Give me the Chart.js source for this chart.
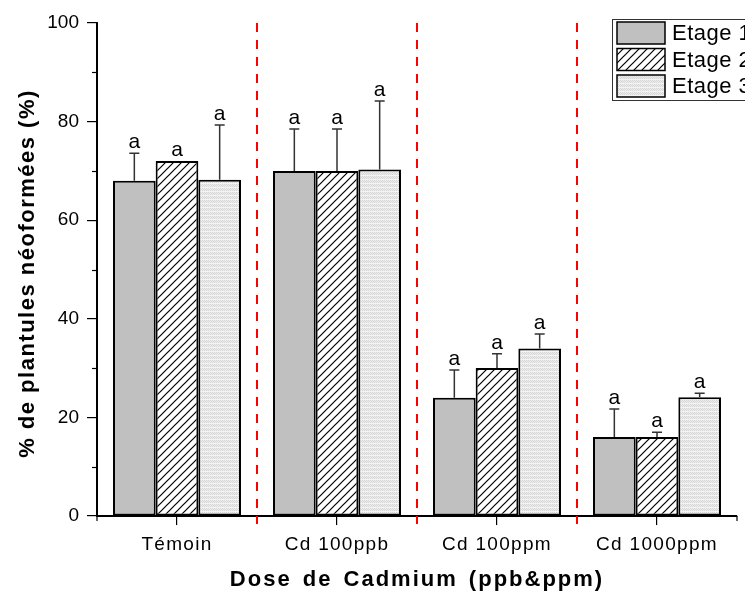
<!DOCTYPE html>
<html>
<head>
<meta charset="utf-8">
<script src="https://cdn.jsdelivr.net/npm/chart.js@4/dist/chart.umd.min.js"></script>
<style>
html,body{margin:0;padding:0;background:#fff;}
#wrap{width:745px;height:594px;}
</style>
</head>
<body>
<div id="wrap"><canvas id="c" width="745" height="594"></canvas></div>
<script>
const categories = ['Témoin', 'Cd 100ppb', 'Cd 100ppm', 'Cd 1000ppm'];
const seriesNames = ['Etage 1', 'Etage 2', 'Etage 3'];
const etage1 = [68, 70, 24, 16];
const etage2 = [72, 70, 30, 16];
const etage3 = [68.2, 70.3, 34, 24.1];
const err1 = [5.6, 8.5, 5.6, 5.7];
const err2 = [0, 8.5, 2.9, 1.0];
const err3 = [11.1, 13.9, 2.9, 0.8];
const letters1 = ['a', 'a', 'a', 'a'];
const letters2 = ['a', 'a', 'a', 'a'];
const letters3 = ['a', 'a', 'a', 'a'];
const yTicks = [0, 20, 40, 60, 80, 100];
const xTitle = 'Dose de Cadmium (ppb&ppm)';
const yTitle = '% de plantules néoformées (%)';

const FONT = "'Liberation Sans', Arial, sans-serif";

function hatchPattern() {
  const c = document.createElement('canvas');
  c.width = 8; c.height = 8;
  const g = c.getContext('2d');
  g.fillStyle = '#ffffff'; g.fillRect(0, 0, 8, 8);
  g.strokeStyle = '#000'; g.lineWidth = 1.2;
  g.beginPath();
  g.moveTo(-1, 9); g.lineTo(9, -1);
  g.moveTo(-5, 5); g.lineTo(5, -5);
  g.moveTo(3, 13); g.lineTo(13, 3);
  g.stroke();
  return g.createPattern(c, 'repeat');
}
function stipplePattern() {
  const c = document.createElement('canvas');
  c.width = 4; c.height = 4;
  const g = c.getContext('2d');
  for (let y = 0; y < 4; y++) {
    for (let x = 0; x < 4; x++) {
      if (y === 3) g.fillStyle = '#f4f4f4';
      else g.fillStyle = ((x + y) % 2 === 0) ? '#d6d6d6' : '#eeeeee';
      g.fillRect(x, y, 1, 1);
    }
  }
  return g.createPattern(c, 'repeat');
}

const errs = [err1, err2, err3];
const letters = [letters1, letters2, letters3];

const errorBarPlugin = {
  id: 'errorBars',
  afterDatasetsDraw(chart) {
    const ctx = chart.ctx;
    const ys = chart.scales.y;
    chart.data.datasets.forEach((ds, i) => {
      const meta = chart.getDatasetMeta(i);
      meta.data.forEach((bar, j) => {
        const v = ds.data[j];
        const e = errs[i][j];
        const yTop = ys.getPixelForValue(v + e);
        ctx.save();
        if (e > 0) {
          ctx.strokeStyle = '#333';
          ctx.lineWidth = 1.5;
          ctx.beginPath();
          ctx.moveTo(bar.x, bar.y);
          ctx.lineTo(bar.x, yTop);
          ctx.moveTo(bar.x - 5, yTop);
          ctx.lineTo(bar.x + 5, yTop);
          ctx.stroke();
        }
        ctx.fillStyle = '#000';
        ctx.font = '21px ' + FONT;
        ctx.textAlign = 'center';
        ctx.textBaseline = 'alphabetic';
        ctx.fillText(letters[i][j], bar.x, yTop - 5);
        ctx.restore();
      });
    });
  }
};

const decorPlugin = {
  id: 'decor',
  afterDraw(chart) {
    const ctx = chart.ctx;
    const xs = chart.scales.x, ys = chart.scales.y;
    const area = chart.chartArea;
    const n = categories.length;
    const step = (xs.right - xs.left) / n;
    ctx.save();
    ctx.strokeStyle = '#000'; ctx.lineWidth = 1.2;
    for (let v = 10; v < 100; v += 20) {
      const y = Math.round(ys.getPixelForValue(v)) + 0.5;
      ctx.beginPath(); ctx.moveTo(area.left - 5, y); ctx.lineTo(area.left, y); ctx.stroke();
    }
    for (let k = 0; k <= n; k++) {
      const x = xs.left + k * step;
      ctx.beginPath(); ctx.moveTo(x, area.bottom); ctx.lineTo(x, area.bottom + 5); ctx.stroke();
    }
    ctx.strokeStyle = '#ff0000'; ctx.lineWidth = 2;
    ctx.setLineDash([9, 8]);
    for (let k = 1; k < n; k++) {
      const x = Math.round(xs.left + k * step);
      ctx.beginPath(); ctx.moveTo(x, area.top); ctx.lineTo(x, area.bottom + 8); ctx.stroke();
    }
    ctx.setLineDash([]);
    ctx.restore();

    // x tick labels
    ctx.save();
    ctx.fillStyle = '#000';
    ctx.font = '19px ' + FONT;
    ctx.letterSpacing = '1.3px';
    ctx.textAlign = 'center';
    ctx.textBaseline = 'middle';
    categories.forEach((c, i) => {
      ctx.fillText(c, xs.getPixelForTick(i), 545);
    });
    ctx.restore();

    // axis titles
    ctx.save();
    ctx.fillStyle = '#000';
    ctx.font = 'bold 22px ' + FONT;
    ctx.letterSpacing = '2px';
    ctx.wordSpacing = '3px';
    ctx.textAlign = 'center';
    ctx.textBaseline = 'middle';
    ctx.fillText(xTitle, (area.left + area.right) / 2, 580);
    ctx.letterSpacing = '1.5px';
    ctx.wordSpacing = '0px';
    ctx.translate(28, (area.top + area.bottom) / 2 + 4);
    ctx.rotate(-Math.PI / 2);
    ctx.fillText(yTitle, 0, 0);
    ctx.restore();

    // legend
    ctx.save();
    ctx.fillStyle = '#fff';
    ctx.fillRect(612, 19, 140, 81);
    ctx.strokeStyle = '#333'; ctx.lineWidth = 1;
    ctx.strokeRect(612.5, 19.5, 140, 81);
    const rows = [22, 48.5, 75];
    chart.data.datasets.forEach((ds, i) => {
      const y = rows[i];
      ctx.fillStyle = ds.backgroundColor;
      ctx.fillRect(617, y, 48, 22);
      ctx.strokeStyle = '#000'; ctx.lineWidth = 1.5;
      ctx.strokeRect(617, y, 48, 22);
      ctx.fillStyle = '#000';
      ctx.font = '22px ' + FONT;
      ctx.letterSpacing = '0.5px';
      ctx.textAlign = 'left';
      ctx.textBaseline = 'middle';
      ctx.fillText(ds.label, 672, y + 12);
    });
    ctx.restore();
  }
};

const chart = new Chart(document.getElementById('c'), {
  type: 'bar',
  data: {
    labels: categories,
    datasets: [
      { label: seriesNames[0], data: etage1, backgroundColor: '#c0c0c0', borderColor: '#000', borderWidth: 2, borderSkipped: false },
      { label: seriesNames[1], data: etage2, backgroundColor: hatchPattern(), borderColor: '#000', borderWidth: 2, borderSkipped: false },
      { label: seriesNames[2], data: etage3, backgroundColor: stipplePattern(), borderColor: '#000', borderWidth: 2, borderSkipped: false }
    ]
  },
  options: {
    responsive: false,
    animation: false,
    layout: { padding: { top: 23, right: 8, left: 0, bottom: 0 } },
    datasets: { bar: { categoryPercentage: 0.8, barPercentage: 1.0 } },
    plugins: { legend: { display: false }, tooltip: { enabled: false } },
    scales: {
      x: {
        offset: true,
        grid: { display: true, drawOnChartArea: false, drawTicks: true, tickLength: 9, color: '#000', lineWidth: 1.2, offset: false },
        border: { display: true, color: '#000', width: 2 },
        ticks: { display: false },
        afterFit(s) { s.height = 78; }
      },
      y: {
        min: 0, max: 100,
        afterBuildTicks(s) { s.ticks = yTicks.map(v => ({ value: v })); },
        grid: { display: true, drawOnChartArea: false, drawTicks: true, tickLength: 10, color: '#000', lineWidth: 1.2 },
        border: { display: true, color: '#000', width: 2 },
        ticks: { color: '#000', padding: 8, font: { family: FONT, size: 19 } },
        afterFit(s) { s.width = 97; }
      }
    }
  },
  plugins: [errorBarPlugin, decorPlugin]
});
</script>
</body>
</html>
